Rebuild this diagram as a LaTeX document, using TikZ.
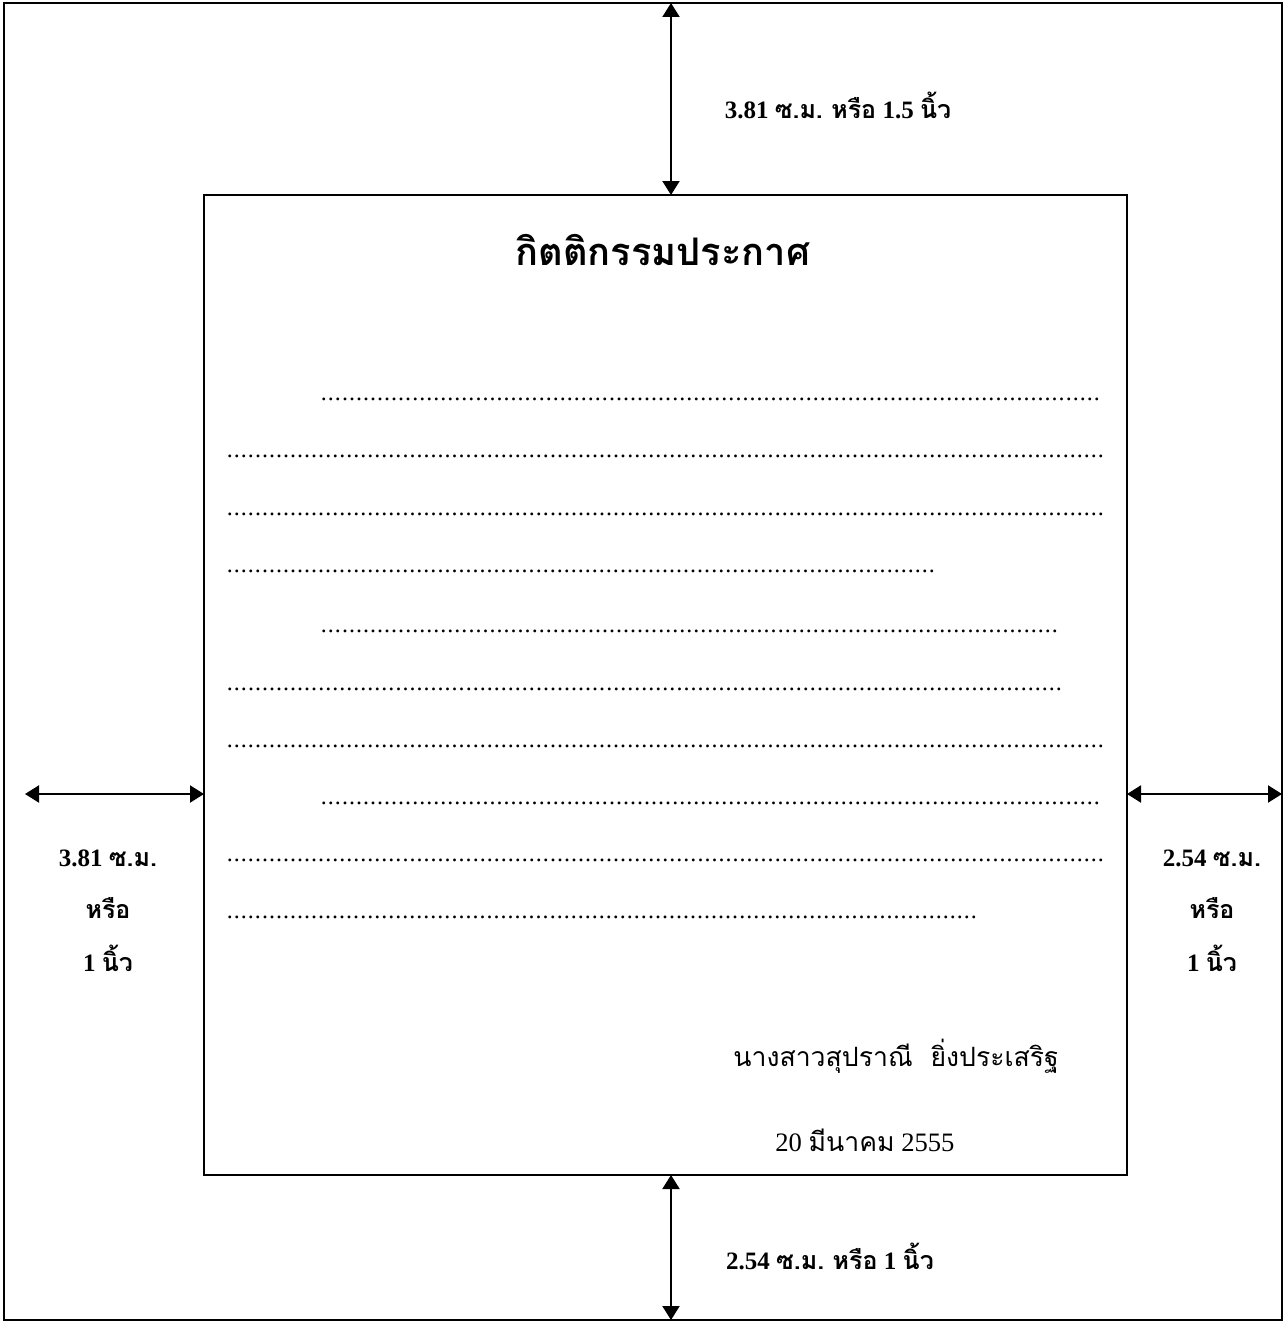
\documentclass[tikz,border=0pt]{standalone}
\usepackage{fontspec}
\setmainfont{Liberation Serif}
\newfontfamily\thaitxt[Script=Thai]{Loma}
\frenchspacing
\usetikzlibrary{arrows.meta, positioning}
\tikzset{
  >={Triangle[length=7pt, width=8.5pt]}, % filled heads on the margin arrows
  box/.style={draw, line width=1pt, inner sep=0pt, outer sep=0pt},
  gap/.style={<->, line width=1pt},
  lbl/.style={font=\bfseries\fontsize{12.5}{15}\selectfont, inner sep=0pt},
  title/.style={font=\bfseries\fontsize{19}{23}\selectfont, inner sep=0pt},
  sig/.style={font=\fontsize{13.3}{16}\selectfont, inner sep=0pt},
  dots/.style={font=\fontsize{12}{14}\selectfont, inner sep=0pt},
}
% a row of typed dots, #1 wide
\newcommand\dotrow[1]{\hbox to #1{\xleaders\hbox to 3.5pt{\hss.\hss}\hfill}}

\begin{document}
\begin{tikzpicture}[x=0.5pt, y=-0.5pt, node distance=25pt, on grid]
  \useasboundingbox (0,0) rectangle (1284,1322);

  % page and typing area
  \node[box, minimum width=639pt, minimum height=658.5pt] (page) at (643,661.5) {};
  \node[box, minimum width=461.5pt, minimum height=490pt] (body) at (665.5,685) {};

  % margin arrows
  \coordinate (topx) at (671,0);
  \coordinate (midy) at (0,794);
  \coordinate (lend) at (25,794);
  \draw[gap] (page.north -| topx) -- (body.north -| topx);
  \draw[gap] (body.south -| topx) -- (page.south -| topx);
  \draw[gap] (lend) -- (body.west |- midy);
  \draw[gap] (body.east |- midy) -- (page.east |- midy);

  % margin labels
  \node[lbl] (toplbl) at (838,105) {3.81 {\thaitxt ซ.ม. หรือ} 1.5 {\thaitxt นิ้ว}};
  \node[lbl] (botlbl) at (830,1256) {2.54 {\thaitxt ซ.ม. หรือ} 1 {\thaitxt นิ้ว}};
  \node[lbl] (l1) at (108,858) {3.81 {\thaitxt ซ.ม.}};
  \node[lbl, below=of l1] (l2) {\thaitxt หรือ};
  \node[lbl, below=of l2] (l3) {1 {\thaitxt นิ้ว}};
  \node[lbl] (r1) at (1212,858) {2.54 {\thaitxt ซ.ม.}};
  \node[lbl, below=of r1] (r2) {\thaitxt หรือ};
  \node[lbl, below=of r2] (r3) {1 {\thaitxt นิ้ว}};

  % heading
  \node[title] (head) at (663,250) {\thaitxt กิตติกรรมประกาศ};

  % dotted text lines
  \foreach \xa/\xb/\yy [count=\i] in {320/1100/398, 226/1104/455, 226/1104/513,
      226/935/570, 320/1058/630, 226/1062/688, 226/1104/745, 320/1100/802,
      226/1104/859, 226/977/916} {
    \pgfmathsetmacro\w{(\xb-\xa)*0.5}
    \node[dots, anchor=base west] (row\i) at (\xa,\yy+2) {\dotrow{\w pt}};
  }

  % signature
  \node[sig, anchor=west] (name) at (733,1056) {\thaitxt นางสาวสุปราณี\ \ ยิ่งประเสริฐ};
  \node[sig, anchor=west] (date) at (775,1140) {20 {\thaitxt มีนาคม} 2555};
\end{tikzpicture}
\end{document}
